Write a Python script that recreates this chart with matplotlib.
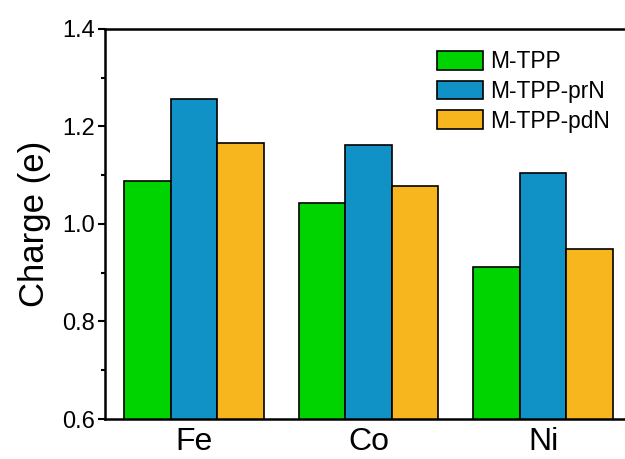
import numpy as np
import matplotlib

matplotlib.use('Agg')

import matplotlib.pyplot as plt
from matplotlib.ticker import MultipleLocator

plt.rcParams['font.family'] = ['Liberation Sans', 'DejaVu Sans']

metals = ['Fe', 'Co', 'Ni']
series = ['M-TPP', 'M-TPP-prN', 'M-TPP-pdN']
m_tpp = [1.088, 1.043, 0.912]
m_tpp_prn = [1.257, 1.162, 1.105]
m_tpp_pdn = [1.167, 1.078, 0.948]
colors = ['#00d400', '#1192c6', '#f7b61e']

fig = plt.figure(figsize=(6.25, 4.59), dpi=100)
ax = fig.add_axes([0.168, 0.0871, 0.843, 0.85])

x = np.arange(len(metals))
w = 0.266
for i, (vals, lab) in enumerate(zip([m_tpp, m_tpp_prn, m_tpp_pdn], series)):
    ax.bar(x + (i - 1) * w, vals, width=w, color=colors[i], edgecolor='black',
           linewidth=1.2, label=lab)

ax.set_ylim(0.6, 1.4)
ax.set_xlim(-0.509, 2.509)
ax.yaxis.set_major_locator(MultipleLocator(0.2))
ax.yaxis.set_minor_locator(MultipleLocator(0.1))
ax.set_yticks([0.6, 0.8, 1.0, 1.2, 1.4])
ax.set_yticklabels(['0.6', '0.8', '1.0', '1.2', '1.4'])
ax.set_xticks(x)
ax.set_xticklabels(metals)
ax.tick_params(axis='y', which='major', direction='out', length=5, width=1.5,
               labelsize=17, pad=2)
ax.tick_params(axis='y', which='minor', direction='out', length=3, width=1.5)
ax.tick_params(axis='x', length=0, labelsize=23, pad=6)
for s in ax.spines.values():
    s.set_linewidth(1.8)

ax.set_ylabel('Charge (e)', fontsize=25, labelpad=8)

ax.legend(loc='upper left', bbox_to_anchor=(437 / 625, 1 - 50 / 459),
          bbox_transform=fig.transFigure, frameon=False, fontsize=16.4,
          handlelength=2.0, handleheight=0.9, handletextpad=0.35,
          labelspacing=0.3, borderpad=0, borderaxespad=0)

fig.savefig('out.png', dpi=100)
